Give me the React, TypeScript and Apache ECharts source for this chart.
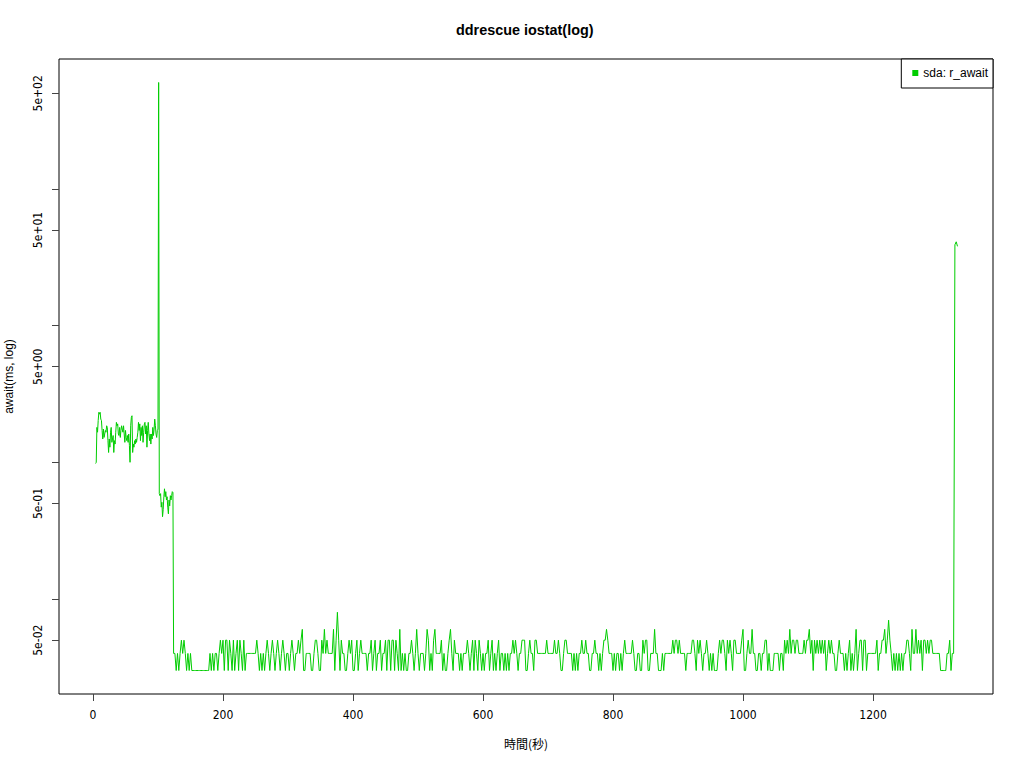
import React, { useEffect, useRef } from "react";
import * as echarts from "echarts";

const TITLE = "ddrescue iostat(log)";
const SERIES_NAME = "sda: r_await";
const X_NAME = "時間(秒)";
const Y_NAME = "await(ms, log)";

const xTickValues = [0, 200, 400, 600, 800, 1000, 1200];
const yTickValues = [0.05, 0.1, 0.5, 1, 5, 10, 50, 100, 500];
const yLabelValues = [0.05, 0.5, 5, 50, 500];

// r_await (ms), 1-second samples starting at t = 4 s (t = 4 .. 125)
const earlyStart = 4;
const earlyAwait = [
  0.98, 1.0, 1.8, 1.66, 2.02, 2.32, 2.25, 2.32, 2.07, 2.02, 1.71,
  1.48, 1.75, 1.52, 1.61, 1.71, 1.66, 1.85, 1.8, 1.44, 1.18, 1.48, 1.29, 1.66, 1.8, 1.4, 1.48,
  1.57, 1.18, 1.44, 1.36, 1.66, 1.96, 1.85, 1.91, 1.61, 1.57, 1.8, 1.52, 1.71, 1.85, 1.75, 1.66,
  1.85, 1.61, 1.4, 1.71, 1.52, 1.44, 1.57, 1.4, 1.61, 1.33, 1.0, 1.85, 2.13, 2.19, 1.18, 1.36,
  1.29, 1.44, 1.36, 1.48, 1.4, 1.52, 1.66, 1.96, 1.71, 1.91, 1.44, 1.8, 1.57, 1.85, 1.4, 1.66,
  1.91, 1.96, 1.61, 1.85, 1.29, 1.71, 1.96, 1.61, 1.44, 1.61, 1.36, 1.61, 1.48, 1.8, 1.57, 1.75,
  2.07, 1.85, 1.61, 1.52, 1.71, 1.75,
  600,
  0.59, 0.57, 0.59, 0.47, 0.51, 0.4, 0.45, 0.56, 0.64, 0.56, 0.61, 0.53, 0.56, 0.47, 0.42, 0.53,
  0.48, 0.57, 0.53, 0.57, 0.61, 0.6,
  0.04, 0.04,
];

// r_await (ms), 2-second samples starting at t = 126 s (t = 126 .. 1330)
const lateStart = 126;
const lateStep = 2;
const lateAwait = [
  // 126 - 298
  0.04, 0.03, 0.04, 0.03, 0.04, 0.05, 0.04, 0.05, 0.04, 0.03, 0.04, 0.03, 0.04,
  0.03, 0.03, 0.03, 0.03, 0.03, 0.03, 0.03, 0.03, 0.03, 0.03, 0.03, 0.03, 0.03, 0.03,
  0.04, 0.03, 0.04, 0.03, 0.04, 0.04, 0.03, 0.04, 0.05, 0.04, 0.05, 0.03, 0.05, 0.05, 0.03,
  0.05, 0.04, 0.03, 0.05, 0.03, 0.04, 0.05, 0.03, 0.05, 0.04, 0.03, 0.05, 0.03, 0.04,
  0.04, 0.04, 0.04, 0.04, 0.04, 0.04, 0.04,
  0.05, 0.04, 0.03, 0.04, 0.03, 0.04, 0.03, 0.04, 0.05, 0.04, 0.03, 0.04, 0.05, 0.04, 0.03,
  0.04, 0.05, 0.04, 0.03, 0.04, 0.05, 0.04, 0.03, 0.04,
  // 300 - 472
  0.04, 0.03, 0.04, 0.05, 0.04, 0.03, 0.04, 0.04, 0.05, 0.04,
  0.05, 0.06, 0.03, 0.03, 0.04, 0.04, 0.04, 0.04, 0.03, 0.03,
  0.04, 0.05, 0.05, 0.04, 0.03, 0.03, 0.05, 0.04, 0.06, 0.04,
  0.05, 0.04, 0.04, 0.04, 0.04, 0.06, 0.03, 0.05, 0.08, 0.05,
  0.03, 0.05, 0.04, 0.04, 0.03, 0.03, 0.04, 0.05, 0.04, 0.05,
  0.03, 0.03, 0.04, 0.05, 0.03, 0.04, 0.05, 0.04, 0.04, 0.04,
  0.04, 0.03, 0.04, 0.04, 0.05, 0.03, 0.04, 0.05, 0.03, 0.04,
  0.04, 0.05, 0.03, 0.04, 0.04, 0.05, 0.03, 0.05, 0.05, 0.03,
  0.05, 0.05, 0.03, 0.05, 0.04, 0.03, 0.06,
  // 474 - 646
  0.03, 0.04, 0.03, 0.04, 0.03, 0.03, 0.04, 0.04, 0.05, 0.04,
  0.03, 0.04, 0.06, 0.04, 0.03, 0.04, 0.04, 0.04, 0.03, 0.04,
  0.06, 0.05, 0.03, 0.04, 0.03, 0.05, 0.06, 0.04, 0.04, 0.04,
  0.04, 0.05, 0.03, 0.04, 0.03, 0.03, 0.04, 0.05, 0.06, 0.04,
  0.03, 0.05, 0.04, 0.04, 0.04, 0.03, 0.04, 0.03, 0.04, 0.04,
  0.04, 0.05, 0.04, 0.03, 0.04, 0.05, 0.03, 0.05, 0.04, 0.03,
  0.05, 0.04, 0.03, 0.04, 0.03, 0.04, 0.04, 0.05, 0.03, 0.04,
  0.05, 0.03, 0.04, 0.03, 0.04, 0.05, 0.03, 0.04, 0.04, 0.03,
  0.04, 0.03, 0.04, 0.03, 0.04, 0.04, 0.05,
  // 648 - 820
  0.04, 0.05, 0.04, 0.03, 0.04, 0.04, 0.05, 0.05, 0.05, 0.03,
  0.03, 0.04, 0.05, 0.04, 0.04, 0.03, 0.05, 0.05, 0.04, 0.04,
  0.04, 0.04, 0.04, 0.04, 0.04, 0.05, 0.04, 0.04, 0.04, 0.04,
  0.04, 0.05, 0.04, 0.04, 0.05, 0.04, 0.03, 0.03, 0.04, 0.05,
  0.05, 0.04, 0.04, 0.04, 0.04, 0.03, 0.04, 0.03, 0.04, 0.03,
  0.04, 0.04, 0.05, 0.04, 0.04, 0.05, 0.04, 0.04, 0.03, 0.03,
  0.04, 0.04, 0.05, 0.04, 0.04, 0.03, 0.04, 0.03, 0.04, 0.05,
  0.05, 0.06, 0.05, 0.04, 0.04, 0.04, 0.03, 0.04, 0.03, 0.04,
  0.04, 0.03, 0.04, 0.03, 0.04, 0.05, 0.04,
  // 822 - 994
  0.04, 0.04, 0.04, 0.04, 0.05, 0.04, 0.03, 0.03, 0.04, 0.04,
  0.03, 0.03, 0.05, 0.04, 0.05, 0.05, 0.03, 0.03, 0.04, 0.04,
  0.04, 0.06, 0.04, 0.04, 0.03, 0.03, 0.03, 0.04, 0.03, 0.04,
  0.04, 0.04, 0.04, 0.04, 0.04, 0.05, 0.04, 0.05, 0.05, 0.04,
  0.05, 0.04, 0.04, 0.04, 0.04, 0.03, 0.04, 0.04, 0.04, 0.04,
  0.05, 0.05, 0.04, 0.03, 0.05, 0.04, 0.05, 0.04, 0.03, 0.04,
  0.04, 0.05, 0.04, 0.03, 0.04, 0.03, 0.04, 0.03, 0.03, 0.03,
  0.04, 0.05, 0.04, 0.05, 0.05, 0.04, 0.03, 0.05, 0.04, 0.05,
  0.04, 0.03, 0.05, 0.05, 0.04, 0.04, 0.04,
  // 996 - 1168
  0.04, 0.05, 0.06, 0.03, 0.03, 0.04, 0.05, 0.04, 0.04, 0.06,
  0.04, 0.04, 0.03, 0.03, 0.04, 0.04, 0.03, 0.04, 0.04, 0.05,
  0.05, 0.03, 0.04, 0.03, 0.03, 0.03, 0.04, 0.04, 0.04, 0.04,
  0.03, 0.04, 0.04, 0.03, 0.05, 0.04, 0.05, 0.04, 0.06, 0.04,
  0.05, 0.05, 0.04, 0.05, 0.05, 0.04, 0.04, 0.04, 0.04, 0.05,
  0.04, 0.05, 0.05, 0.06, 0.04, 0.05, 0.03, 0.05, 0.04, 0.05,
  0.04, 0.05, 0.04, 0.05, 0.04, 0.05, 0.03, 0.04, 0.05, 0.04,
  0.05, 0.04, 0.04, 0.03, 0.03, 0.04, 0.05, 0.04, 0.04, 0.04,
  0.03, 0.04, 0.03, 0.04, 0.05, 0.03, 0.04,
  // 1170 - 1330
  0.03, 0.04, 0.06, 0.03, 0.04, 0.05, 0.05, 0.03, 0.05, 0.05,
  0.03, 0.04, 0.04, 0.04, 0.04, 0.04, 0.04, 0.04, 0.05, 0.03,
  0.04, 0.04, 0.05, 0.05, 0.06, 0.04, 0.05, 0.07, 0.05, 0.04,
  0.03, 0.04, 0.03, 0.04, 0.03, 0.04, 0.03, 0.04, 0.03, 0.04,
  0.04, 0.05, 0.05, 0.04, 0.03, 0.06, 0.04, 0.04, 0.06, 0.04,
  0.05, 0.04, 0.05, 0.03, 0.05, 0.05, 0.04, 0.05, 0.04, 0.05,
  0.05, 0.04, 0.04, 0.04, 0.04, 0.04, 0.04, 0.03, 0.03, 0.03,
  0.03, 0.03, 0.04, 0.04, 0.05, 0.03, 0.04, 0.04,
  39, 41, 38,
];

// axis extents (R style, 4% padding of the data range)
const X_MIN = -52.3;
const X_MAX = 1384.6;
const Y_MIN = 0.0202;
const Y_MAX = 891;

const GREEN = "#00cd00";
const NARROW = "'Liberation Sans Narrow', 'DejaVu Sans Condensed', 'Arial Narrow', 'Liberation Sans', sans-serif";
const SANS = "'Liberation Sans', Arial, sans-serif";

function fmtExp(logVal: number): string {
  const v = Math.pow(10, logVal);
  let best = yLabelValues[0];
  for (const c of yLabelValues) {
    if (Math.abs(Math.log10(c) - Math.log10(v)) < Math.abs(Math.log10(best) - Math.log10(v))) best = c;
  }
  const [m, e] = best.toExponential(0).split("e");
  const sign = e[0] === "-" ? "-" : "+";
  const digits = e.replace(/[+-]/, "").padStart(2, "0");
  return `${m}e${sign}${digits}`;
}

export default function App() {
  const ref = useRef<HTMLDivElement>(null);

  useEffect(() => {
    document.body.style.margin = "0";
    if (!ref.current) return;
    const chart = echarts.init(ref.current, undefined, { renderer: "svg" });

    const data: number[][] = [];
    earlyAwait.forEach((v, i) => data.push([earlyStart + i, Math.log10(v)]));
    lateAwait.forEach((v, i) => data.push([lateStart + i * lateStep, Math.log10(v)]));

    chart.setOption({
      animation: false,
      backgroundColor: "#ffffff",
      title: {
        text: TITLE,
        left: 456,
        top: 23,
        padding: 0,
        textStyle: { fontFamily: SANS, fontSize: 14.4, fontWeight: "bold", color: "#000" },
      },
      legend: {
        data: [{ name: SERIES_NAME, icon: "rect" }],
        right: 31,
        top: 59,
        orient: "vertical",
        itemWidth: 6,
        itemHeight: 6,
        padding: [8, 5, 9, 11],
        borderColor: "#000",
        borderWidth: 1,
        borderRadius: 0,
        backgroundColor: "#fff",
        textStyle: { fontFamily: SANS, fontSize: 12, color: "#000" },
      },
      grid: {
        left: 59,
        right: 31,
        top: 59,
        bottom: 74,
        outerBoundsMode: "none",
        containLabel: false,
        show: true,
        borderColor: "#000",
        borderWidth: 1,
        backgroundColor: "transparent",
      },
      xAxis: {
        type: "value",
        min: X_MIN,
        max: X_MAX,
        name: X_NAME,
        nameLocation: "middle",
        nameGap: 43,
        nameTextStyle: { fontFamily: "'Noto Sans CJK JP', sans-serif", fontSize: 12, color: "#000" },
        axisLine: { show: false, onZero: false },
        axisTick: {
          show: true,
          length: 7,
          customValues: xTickValues,
          lineStyle: { color: "#444", width: 1 },
        },
        axisLabel: {
          customValues: xTickValues,
          margin: 15,
          fontFamily: NARROW,
          fontSize: 12,
          color: "#000",
          formatter: (val: number) => String(Math.round(val)),
        },
        splitLine: { show: false },
      },
      yAxis: {
        type: "value",
        min: Math.log10(Y_MIN),
        max: Math.log10(Y_MAX),
        name: Y_NAME,
        nameLocation: "middle",
        nameGap: 44,
        nameTextStyle: { fontFamily: SANS, fontSize: 12, color: "#000" },
        axisLine: { show: false, onZero: false },
        axisTick: {
          show: true,
          length: 7,
          customValues: yTickValues.map((v) => Math.log10(v)),
          lineStyle: { color: "#444", width: 1 },
        },
        axisLabel: {
          customValues: yLabelValues.map((v) => Math.log10(v)),
          rotate: 90,
          margin: 15,
          fontFamily: NARROW,
          fontSize: 12,
          color: "#000",
          formatter: (val: number) => fmtExp(val),
        },
        splitLine: { show: false },
      },
      series: [
        {
          name: SERIES_NAME,
          type: "line",
          data,
          showSymbol: false,
          symbol: "none",
          color: GREEN,
          lineStyle: { color: GREEN, width: 1 },
        },
      ],
    });

    return () => chart.dispose();
  }, []);

  return <div ref={ref} style={{ width: 1024, height: 768 }} />;
}
